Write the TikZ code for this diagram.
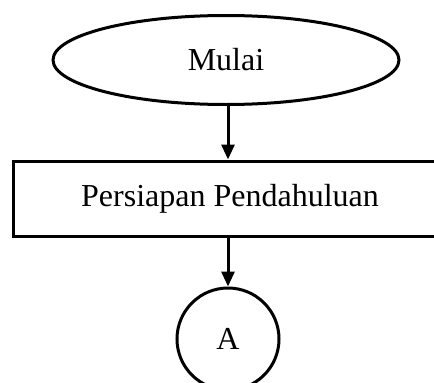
\documentclass[tikz,border=0pt]{standalone}
\usepackage{fontspec}
\setmainfont{Liberation Serif}
\usetikzlibrary{shapes.geometric,arrows.meta}

\tikzset{
  startstop/.style={draw, ellipse, line width=3pt, minimum width=346pt, minimum height=89pt, inner sep=0pt},
  process/.style={draw, rectangle, line width=3pt, minimum width=434pt, minimum height=75pt, inner sep=0pt},
  connector/.style={draw, circle, line width=3pt, minimum size=102pt, inner sep=0pt},
  flow/.style={line width=3pt, -{Triangle[length=15pt,width=13pt]}}
}

\begin{document}
\begin{tikzpicture}[x=1pt, y=-1pt, font=\fontsize{32}{38}\selectfont]
                % Fix the page size
                \useasboundingbox (0,0) rectangle (434,383);
                % Draw the flowchart boxes
                \node[startstop] (mulai) at (226,60) {Mulai};
                \node[process] (persiapan) at (230,198.5) {Persiapan Pendahuluan};
                \node[connector] (a) at (228,339) {A};
                % Draw the arrows between them
                \draw[flow] (mulai.south -| a.north) -- (persiapan.north -| a.north);
                \draw[flow] (persiapan.south -| a.north) -- (a.north);
            \end{tikzpicture}
\end{document}
